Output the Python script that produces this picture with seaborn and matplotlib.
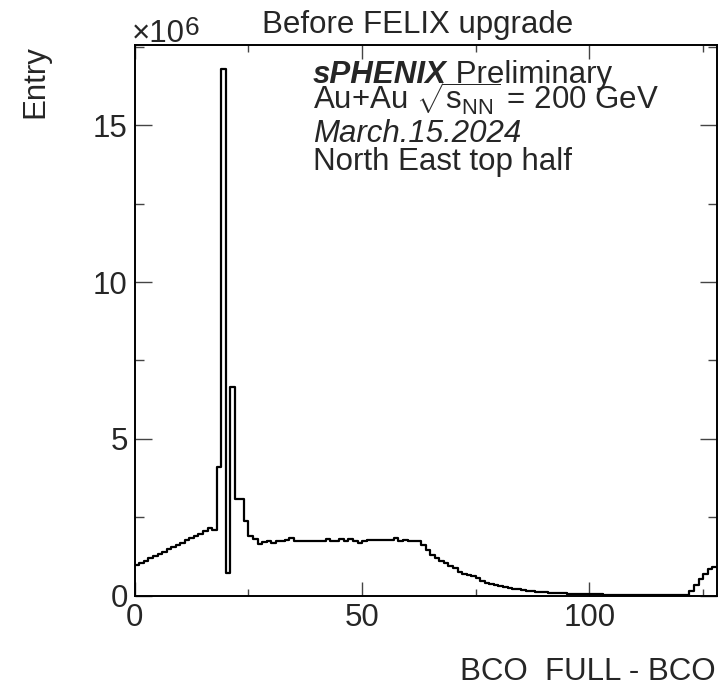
import numpy as np
import pandas as pd
import matplotlib
matplotlib.use("Agg")
import matplotlib.pyplot as plt
from matplotlib.ticker import MultipleLocator
import seaborn as sns

# ---- data (entries per bin, in units of 1e6) ----
rise = [0.98, 1.05, 1.12, 1.20, 1.27, 1.34, 1.40, 1.48, 1.55, 1.62, 1.69, 1.77,
        1.84, 1.91, 1.98, 2.05, 2.16, 2.08]                       # bins 0-17
peak = [4.09, 16.79, 0.72, 6.67, 3.09, 3.09, 2.37, 1.91, 1.81, 1.65]  # bins 18-27
plateau = [1.70, 1.73, 1.68, 1.76, 1.76, 1.77, 1.83, 1.76, 1.73, 1.73, 1.73, 1.76,
           1.73, 1.73, 1.81, 1.76, 1.76, 1.82, 1.76, 1.81, 1.73, 1.69, 1.76, 1.79,
           1.79, 1.77, 1.77, 1.78, 1.77, 1.83, 1.76, 1.79, 1.76, 1.76, 1.76]  # bins 28-62
falloff = [1.62, 1.46, 1.30, 1.19, 1.12, 1.04, 0.95, 0.87, 0.77, 0.70, 0.66, 0.62]  # 63-74
tail = [0.55, 0.48, 0.42, 0.38, 0.33, 0.30, 0.27, 0.24, 0.22, 0.20, 0.18, 0.16,
        0.15, 0.13, 0.12, 0.11, 0.10, 0.09, 0.08, 0.075, 0.07, 0.065, 0.06, 0.055,
        0.05]                                                        # bins 75-99
floor = [0.045, 0.042, 0.040, 0.037, 0.035, 0.032, 0.030, 0.028,
         0.025, 0.024, 0.023, 0.022, 0.021, 0.020, 0.020, 0.020, 0.020, 0.020,
         0.020, 0.020, 0.025, 0.030]                                 # bins 100-121
wrap = [0.16, 0.34, 0.52, 0.70, 0.84, 0.92]                          # bins 122-127

counts = rise + peak + plateau + falloff + tail + floor + wrap
n_bins = len(counts)
df = pd.DataFrame({"bco": np.arange(n_bins) + 0.5, "entry": counts})

x_ticks_major = [0, 50, 100]
y_ticks_major = [0, 5, 10, 15]

title = "Before FELIX upgrade"
xlabel = "BCO  FULL - BCO"
ylabel = "Entry"

# ---- style ----
sns.set_style("ticks")
plt.rcParams["font.family"] = ["Liberation Sans", "DejaVu Sans"]
plt.rcParams["mathtext.fontset"] = "custom"
plt.rcParams["mathtext.rm"] = "Liberation Sans"
plt.rcParams["mathtext.it"] = "Liberation Sans:italic"
plt.rcParams["mathtext.bf"] = "Liberation Sans:bold"

W, H = 719, 687
fig = plt.figure(figsize=(W / 100, H / 100), dpi=100)
ax = fig.add_axes([134.8 / W, 1 - 595.7 / H, (716.7 - 134.8) / W, (595.7 - 45.0) / H])

sns.histplot(data=df, x="bco", weights="entry", binwidth=1, binrange=(0, n_bins),
             element="step", fill=False, color="black", linewidth=1.6, ax=ax)

ax.set_xlim(0, 128)
ax.set_ylim(0, 17.56)
ax.set_xlabel("")
ax.set_ylabel("")
ax.set_xticks(x_ticks_major)
ax.set_yticks(y_ticks_major)
ax.set_xticklabels([str(v) for v in x_ticks_major])
ax.set_yticklabels([str(v) for v in y_ticks_major])
ax.xaxis.set_minor_locator(MultipleLocator(25))
ax.yaxis.set_minor_locator(MultipleLocator(2.5))

for s in ax.spines.values():
    s.set_linewidth(1.4)
    s.set_color("black")

ax.tick_params(axis="both", which="both", direction="in", top=True, right=True,
               color="#444444", width=1.0, labelsize=22.5)
ax.tick_params(axis="y", which="major", length=12, pad=5)
ax.tick_params(axis="y", which="minor", length=6.5)
ax.tick_params(axis="x", which="major", length=10, pad=5)
ax.tick_params(axis="x", which="minor", length=5)

def fy(py):
    return 1 - py / H

FS = 22.5

# title and axis labels
fig.text(417.5 / W, fy(33.3), title, ha="center", va="baseline", fontsize=FS)
fig.text(716 / W, fy(680), xlabel, ha="right", va="baseline", fontsize=FS)
fig.text(50 / W, fy(45), ylabel, rotation=90, ha="right", va="top", fontsize=FS)

# exponent
tx = fig.text(132 / W, fy(41.7), "\u00d710", ha="left", va="baseline", fontsize=FS)
ax.annotate("6", xy=(1, 0), xycoords=tx, xytext=(0, 6), textcoords="offset points",
            ha="left", va="bottom", fontsize=19)

# annotation block
x0 = 313 / W
t1 = fig.text(x0, fy(83.3), "sPHENIX", ha="left", va="baseline", fontsize=FS,
              fontweight="bold", fontstyle="italic")
ax.annotate(" Preliminary", xy=(1, 0), xycoords=t1, ha="left", va="bottom",
            fontsize=FS)
fig.text(x0, fy(110), r"Au+Au $\sqrt{\mathrm{s}_{\mathrm{NN}}}$ = 200 GeV",
         ha="left", va="baseline", fontsize=FS)
fig.text(x0, fy(141.7), "March.15.2024", ha="left", va="baseline", fontsize=FS,
         fontstyle="italic")
fig.text(x0, fy(170), "North East top half", ha="left", va="baseline", fontsize=FS)

fig.savefig("out.png", dpi=100)
